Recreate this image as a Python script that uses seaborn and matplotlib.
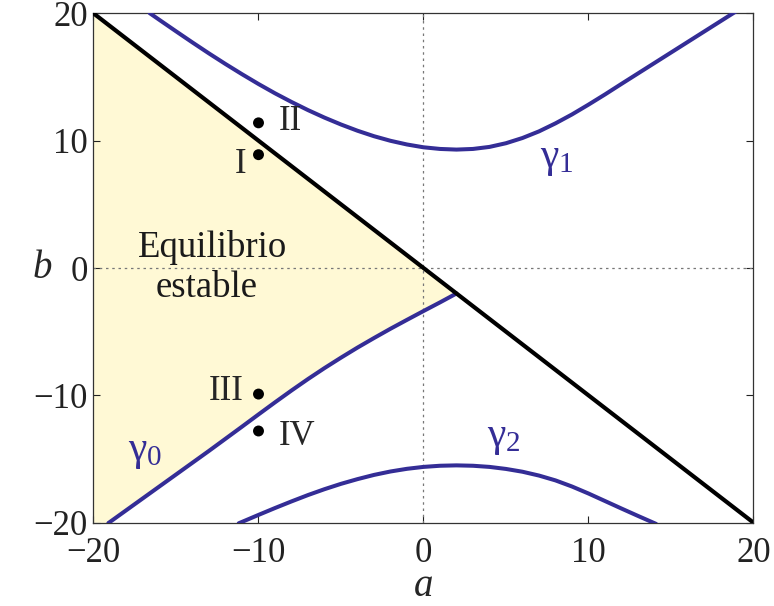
import matplotlib
matplotlib.use("Agg")
import matplotlib.pyplot as plt
import seaborn as sns

# Stability boundary b = -a
line_a = [-20.0, 20.0]
line_b = [20.0, -20.0]

# gamma_0: lower edge of the stable region (ends on the line b = -a)
gamma0_a = [-19.1, -19.0, -18.0, -17.0, -16.0, -15.0, -14.0, -13.0, -12.0, -11.0, -10.0,
            -9.0, -8.0, -7.0, -6.0, -5.0, -4.0, -3.0, -2.0, -1.0, 0.0, 1.0, 2.0]
gamma0_b = [-20.03, -19.94, -19.01, -18.08, -17.15, -16.22, -15.29, -14.36, -13.41, -12.46, -11.5,
            -10.55, -9.62, -8.72, -7.86, -7.04, -6.25, -5.5, -4.77, -4.07, -3.38, -2.7, -2.0]

# gamma_1: upper curve
gamma1_a = [-16.6, -16.0, -15.0, -14.0, -13.0, -12.0, -11.0, -10.0, -9.0, -8.0, -7.0, -6.0,
            -5.0, -4.0, -3.0, -2.0, -1.0, 0.0, 1.0, 2.0, 3.0, 4.0, 5.0, 6.0, 7.0, 8.0,
            9.0, 10.0, 11.0, 12.0, 13.0, 14.0, 15.0, 16.0, 17.0, 18.0, 19.0]
gamma1_b = [20.02, 19.48, 18.59, 17.71, 16.85, 16.02, 15.22, 14.45, 13.72, 13.04, 12.4, 11.81,
            11.27, 10.78, 10.35, 9.99, 9.7, 9.48, 9.35, 9.3, 9.35, 9.51, 9.8, 10.21, 10.73, 11.36,
            12.06, 12.83, 13.63, 14.46, 15.28, 16.1, 16.92, 17.74, 18.56, 19.38, 20.2]

# gamma_2: lower curve
gamma2_a = [-11.2, -11.0, -10.0, -9.0, -8.0, -7.0, -6.0, -5.0, -4.0, -3.0, -2.0, -1.0, 0.0,
            1.0, 2.0, 3.0, 4.0, 5.0, 6.0, 7.0, 8.0, 9.0, 10.0, 11.0, 12.0, 13.0, 14.0, 14.1]
gamma2_b = [-20.05, -19.94, -19.39, -18.85, -18.33, -17.83, -17.37, -16.95, -16.58, -16.25, -15.98,
            -15.77, -15.62, -15.53, -15.5, -15.53, -15.62, -15.78, -16.0, -16.3, -16.68, -17.16,
            -17.71, -18.3, -18.89, -19.47, -20.04, -20.1]

# Sample points I-IV
pts_a = [-10.0, -10.0, -10.0, -10.0]
pts_b = [8.9, 11.4, -9.9, -12.8]
pts_names = ["I", "II", "III", "IV"]

ticks = [-20, -10, 0, 10, 20]

blue = "#342d96"
fill_col = "#fff9d5"

sns.set_style("ticks")
plt.rcParams["font.family"] = ["Liberation Serif", "DejaVu Serif"]
plt.rcParams["mathtext.fontset"] = "custom"
plt.rcParams["mathtext.rm"] = "Liberation Serif"
plt.rcParams["mathtext.it"] = "Liberation Serif:italic"

fig = plt.figure(figsize=(7.74, 6.06), dpi=100)
ax = fig.add_axes([0.1208, 0.1375, 0.8527, 0.8405])

# Stable region: under the line b=-a and above gamma_0
fill_a = [line_a[0], gamma0_a[-1]] + gamma0_a[::-1] + [line_a[0]]
fill_b = [line_b[0], -gamma0_a[-1]] + gamma0_b[::-1] + [-20.0]
ax.fill(fill_a, fill_b, color=fill_col, lw=0, zorder=0)

ax.axvline(0, color="#777777", ls=(0, (2, 3)), lw=0.9, zorder=1)
ax.axhline(0, color="#777777", ls=(0, (2, 3)), lw=0.9, zorder=1)

for ga, gb in [(gamma0_a, gamma0_b), (gamma1_a, gamma1_b), (gamma2_a, gamma2_b)]:
    sns.lineplot(x=ga, y=gb, sort=False, estimator=None, color=blue, lw=2.9, ax=ax, zorder=3)

sns.lineplot(x=line_a, y=line_b, sort=False, estimator=None, color="black", lw=3.0, ax=ax, zorder=4)

sns.scatterplot(x=pts_a, y=pts_b, color="black", s=62, edgecolor="none", ax=ax, zorder=5)

# Point labels
ax.text(-10.75, 8.1, pts_names[0], ha="right", va="center", fontsize=25)
ax.text(-8.8, 11.5, pts_names[1], ha="left", va="center", fontsize=25)
ax.text(-10.9, -9.7, pts_names[2], ha="right", va="center", fontsize=25)
ax.text(-8.8, -13.25, pts_names[3], ha="left", va="center", fontsize=25)

# Curve labels
ax.text(-16.9, -14.4, r"$\mathrm{\gamma}_{0}$", color=blue, ha="center", va="center", fontsize=30)
ax.text(8.1, 8.6, r"$\mathrm{\gamma}_{1}$", color=blue, ha="center", va="center", fontsize=30)
ax.text(4.9, -13.3, r"$\mathrm{\gamma}_{2}$", color=blue, ha="center", va="center", fontsize=30)

# Region label, two centred lines
ax.text(-12.8, 0.84, "Equilibrio", ha="center", va="baseline", fontsize=26.5, color="#1a1a1a")
ax.text(-13.14, -2.25, "estable", ha="center", va="baseline", fontsize=26.5, color="#1a1a1a")

ax.set_xlim(-20, 20)
ax.set_ylim(-20, 20)
ax.set_xticks(ticks)
ax.set_yticks(ticks)
ax.tick_params(direction="in", top=True, right=True, length=5, width=0.8,
               labelsize=25, colors="#222222")
ax.tick_params(axis="x", pad=10)
ax.tick_params(axis="y", pad=4)
for sp in ax.spines.values():
    sp.set_visible(True)
    sp.set_linewidth(0.9)
    sp.set_color("#333333")

ax.set_xlabel("a", fontsize=28, style="italic")
ax.set_ylabel("b", fontsize=28, style="italic", rotation=0)
ax.xaxis.set_label_coords(0.5, -0.125)
ax.yaxis.set_label_coords(-0.078, 0.5)
ax.xaxis.label.set_va("center")
ax.yaxis.label.set_va("center")

fig.savefig("out.png", dpi=100)
